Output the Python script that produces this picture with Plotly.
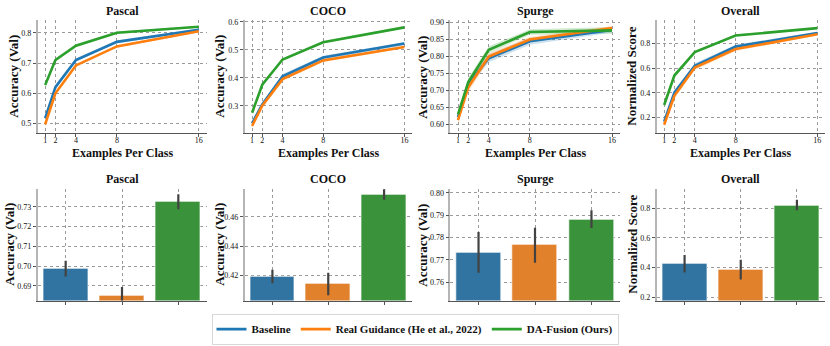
import plotly.graph_objects as go
from plotly.subplots import make_subplots

W, H = 830, 346

# --- data ---
SHOTS = [1, 2, 4, 8, 16]
PANELS = ["Pascal", "COCO", "Spurge", "Overall"]
SERIES = ["Baseline", "Real Guidance (He et al., 2022)", "DA-Fusion (Ours)"]

PASCAL_BASE = [0.518, 0.620, 0.710, 0.770, 0.810]
PASCAL_REAL = [0.497, 0.600, 0.692, 0.755, 0.805]
PASCAL_DA = [0.627, 0.710, 0.757, 0.800, 0.820]
PASCAL_BASE_ERR = [0.006, 0.008, 0.006, 0.005, 0.004]
PASCAL_REAL_ERR = [0.004, 0.006, 0.005, 0.004, 0.004]
PASCAL_DA_ERR = [0.005, 0.006, 0.005, 0.004, 0.003]

COCO_BASE = [0.237, 0.305, 0.405, 0.472, 0.522]
COCO_REAL = [0.228, 0.300, 0.395, 0.462, 0.510]
COCO_DA = [0.275, 0.375, 0.465, 0.527, 0.580]
COCO_BASE_ERR = [0.004, 0.006, 0.008, 0.007, 0.006]
COCO_REAL_ERR = [0.004, 0.006, 0.006, 0.006, 0.005]
COCO_DA_ERR = [0.003, 0.004, 0.004, 0.004, 0.004]

SPURGE_BASE = [0.622, 0.720, 0.795, 0.845, 0.878]
SPURGE_REAL = [0.613, 0.710, 0.800, 0.850, 0.884]
SPURGE_DA = [0.630, 0.725, 0.820, 0.872, 0.877]
SPURGE_BASE_ERR = [0.008, 0.012, 0.012, 0.010, 0.007]
SPURGE_REAL_ERR = [0.010, 0.015, 0.010, 0.008, 0.006]
SPURGE_DA_ERR = [0.008, 0.012, 0.010, 0.008, 0.010]

OVERALL_BASE = [0.165, 0.400, 0.620, 0.775, 0.885]
OVERALL_REAL = [0.140, 0.375, 0.605, 0.755, 0.875]
OVERALL_DA = [0.300, 0.540, 0.730, 0.865, 0.925]
OVERALL_BASE_ERR = [0.015, 0.020, 0.020, 0.015, 0.010]
OVERALL_REAL_ERR = [0.012, 0.020, 0.020, 0.015, 0.010]
OVERALL_DA_ERR = [0.010, 0.012, 0.010, 0.008, 0.006]

# bar values, with confidence interval ends
PASCAL_BAR = [0.6985, 0.6851, 0.7325]
PASCAL_BAR_LO = [0.6947, 0.6810, 0.7288]
PASCAL_BAR_HI = [0.7027, 0.6893, 0.7365]
COCO_BAR = [0.4193, 0.4146, 0.4748]
COCO_BAR_LO = [0.4148, 0.4067, 0.4716]
COCO_BAR_HI = [0.4240, 0.4220, 0.4788]
SPURGE_BAR = [0.7730, 0.7766, 0.7880]
SPURGE_BAR_LO = [0.7641, 0.7686, 0.7842]
SPURGE_BAR_HI = [0.7824, 0.7843, 0.7922]
OVERALL_BAR = [0.425, 0.383, 0.816]
OVERALL_BAR_LO = [0.367, 0.320, 0.787]
OVERALL_BAR_HI = [0.485, 0.453, 0.858]

LINES = {
    "Pascal": ([PASCAL_BASE, PASCAL_REAL, PASCAL_DA], [PASCAL_BASE_ERR, PASCAL_REAL_ERR, PASCAL_DA_ERR]),
    "COCO": ([COCO_BASE, COCO_REAL, COCO_DA], [COCO_BASE_ERR, COCO_REAL_ERR, COCO_DA_ERR]),
    "Spurge": ([SPURGE_BASE, SPURGE_REAL, SPURGE_DA], [SPURGE_BASE_ERR, SPURGE_REAL_ERR, SPURGE_DA_ERR]),
    "Overall": ([OVERALL_BASE, OVERALL_REAL, OVERALL_DA], [OVERALL_BASE_ERR, OVERALL_REAL_ERR, OVERALL_DA_ERR]),
}
BARS = {
    "Pascal": (PASCAL_BAR, PASCAL_BAR_LO, PASCAL_BAR_HI),
    "COCO": (COCO_BAR, COCO_BAR_LO, COCO_BAR_HI),
    "Spurge": (SPURGE_BAR, SPURGE_BAR_LO, SPURGE_BAR_HI),
    "Overall": (OVERALL_BAR, OVERALL_BAR_LO, OVERALL_BAR_HI),
}

# --- styling / layout ---
LINE_COLORS = ["#1f77b4", "#ff7f0e", "#2ca02c"]
BAND_COLORS = ["rgba(31,119,180,0.22)", "rgba(255,127,14,0.22)", "rgba(44,160,44,0.22)"]
BAR_COLORS = ["#3274a1", "#e1812c", "#3a923a"]
FONT = "Liberation Serif"

# pixel extents of each plot area
X_PX = [(37.5, 206.5), (244.5, 412), (450.3, 619.7), (656.5, 825)]
TOP_PX = (18, 133)
BOT_PX = (189, 302)
TOP_YRANGE = [(0.467, 0.843), (0.201, 0.607), (0.574, 0.908), (0.069, 0.993)]
BOT_YRANGE = [(0.6825, 0.7392), (0.4031, 0.4791), (0.7517, 0.8018), (0.178, 0.931)]
TOP_YTICKS = [[0.5, 0.6, 0.7, 0.8], [0.3, 0.4, 0.5, 0.6],
              [0.60, 0.65, 0.70, 0.75, 0.80, 0.85, 0.90], [0.2, 0.4, 0.6, 0.8]]
TOP_YFMT = [".1f", ".1f", ".2f", ".1f"]
BOT_YTICKS = [[0.69, 0.70, 0.71, 0.72, 0.73], [0.42, 0.44, 0.46],
              [0.76, 0.77, 0.78, 0.79, 0.80], [0.2, 0.4, 0.6, 0.8]]
BOT_YFMT = [".2f", ".2f", ".2f", ".1f"]
YLABELS = ["Accuracy (Val)", "Accuracy (Val)", "Accuracy (Val)", "Normalized Score"]
TOP_YLABEL_X = [14, 220, 423, 632]
BOT_YLABEL_X = [10, 220, 423, 633]


def py(px):
    return 1 - px / H


fig = make_subplots(rows=2, cols=4)

for c, name in enumerate(PANELS, start=1):
    means, errs = LINES[name]
    # confidence bands first, lines on top
    for i in range(3):
        hi = [m + e for m, e in zip(means[i], errs[i])]
        lo = [m - e for m, e in zip(means[i], errs[i])]
        fig.add_trace(go.Scatter(x=SHOTS, y=hi, mode="lines", line=dict(width=0),
                                 showlegend=False, hoverinfo="skip"), row=1, col=c)
        fig.add_trace(go.Scatter(x=SHOTS, y=lo, mode="lines", line=dict(width=0),
                                 fill="tonexty", fillcolor=BAND_COLORS[i],
                                 showlegend=False, hoverinfo="skip"), row=1, col=c)
    for i in range(3):
        fig.add_trace(go.Scatter(
            x=SHOTS, y=means[i], mode="lines", name=SERIES[i],
            line=dict(color=LINE_COLORS[i], width=2.6),
            showlegend=(c == 1), legendgroup=SERIES[i],
        ), row=1, col=c)

    vals, lo, hi = BARS[name]
    fig.add_trace(go.Bar(
        x=[0, 1, 2], y=vals, width=0.8, showlegend=False,
        marker=dict(color=BAR_COLORS, line=dict(color="rgba(255,255,255,0.7)", width=1)),
        error_y=dict(type="data", symmetric=False,
                     array=[h - v for h, v in zip(hi, vals)],
                     arrayminus=[v - l for v, l in zip(vals, lo)],
                     color="#424242", thickness=2.2, width=0),
    ), row=2, col=c)

axis_common = dict(
    showgrid=True, gridcolor="#9a9a9a", griddash="dot", gridwidth=1,
    ticks="outside", ticklen=3, tickcolor="#555", tickwidth=1,
    tickfont=dict(family=FONT, size=8, color="#111"), zeroline=False,
)
title_font = dict(family=FONT, size=12, color="#111", weight="bold")
xlabel_font = dict(family=FONT, size=12, color="#111", weight="bold")
ylabel_font = dict(family=FONT, size=13, color="#111", weight="bold")

annotations = []
for c in range(4):
    x0, x1 = X_PX[c]
    dom = [x0 / W, x1 / W]
    xc = (x0 + x1) / 2 / W
    # top row
    fig.update_xaxes(row=1, col=c + 1, domain=dom, range=[0.25, 16.75],
                     tickvals=SHOTS, ticklabelstandoff=-4,
                     showline=True, linecolor="#555", linewidth=1, **axis_common)
    fig.update_yaxes(row=1, col=c + 1, domain=[py(TOP_PX[1]), py(TOP_PX[0])],
                     range=list(TOP_YRANGE[c]), tickvals=TOP_YTICKS[c], tickformat=TOP_YFMT[c],
                     showline=True, linecolor="#b5b5b5", linewidth=1.5, **axis_common)
    # bottom row
    fig.update_xaxes(row=2, col=c + 1, domain=dom, range=[-0.5, 2.5],
                     tickvals=[0, 1, 2], showticklabels=False,
                     showline=True, linecolor="#555", linewidth=1, **axis_common)
    fig.update_yaxes(row=2, col=c + 1, domain=[py(BOT_PX[1]), py(BOT_PX[0])],
                     range=list(BOT_YRANGE[c]), tickvals=BOT_YTICKS[c], tickformat=BOT_YFMT[c],
                     showline=True, linecolor="#b5b5b5", linewidth=1.5, **axis_common)

    annotations += [
        dict(text=PANELS[c], x=xc, y=py(9), xref="paper", yref="paper",
             showarrow=False, font=title_font, xanchor="center", yanchor="middle"),
        dict(text=PANELS[c], x=xc, y=py(179), xref="paper", yref="paper",
             showarrow=False, font=title_font, xanchor="center", yanchor="middle"),
        dict(text="Examples Per Class", x=xc, y=py(153), xref="paper", yref="paper",
             showarrow=False, font=xlabel_font, xanchor="center", yanchor="middle"),
        dict(text=YLABELS[c], x=TOP_YLABEL_X[c] / W, y=py(75.5), xref="paper", yref="paper",
             showarrow=False, font=ylabel_font, textangle=-90,
             xanchor="center", yanchor="middle"),
        dict(text=YLABELS[c], x=BOT_YLABEL_X[c] / W, y=py(245.5), xref="paper", yref="paper",
             showarrow=False, font=ylabel_font, textangle=-90,
             xanchor="center", yanchor="middle"),
    ]

fig.update_layout(
    width=W, height=H,
    margin=dict(l=0, r=0, t=0, b=0),
    plot_bgcolor="white", paper_bgcolor="white",
    annotations=annotations,
    bargap=0,
    legend=dict(
        orientation="h", x=0.5, xanchor="center", y=py(331), yanchor="middle",
        bordercolor="#d8d8d8", borderwidth=1, itemwidth=30,
        font=dict(family=FONT, size=11, color="#111", weight="bold"),
    ),
)

# the page body has a default 8px margin; drop it so the figure sits at the window corner
fig.write_html("out.html", config={"displayModeBar": False},
               post_script="document.body.style.margin='0';")
